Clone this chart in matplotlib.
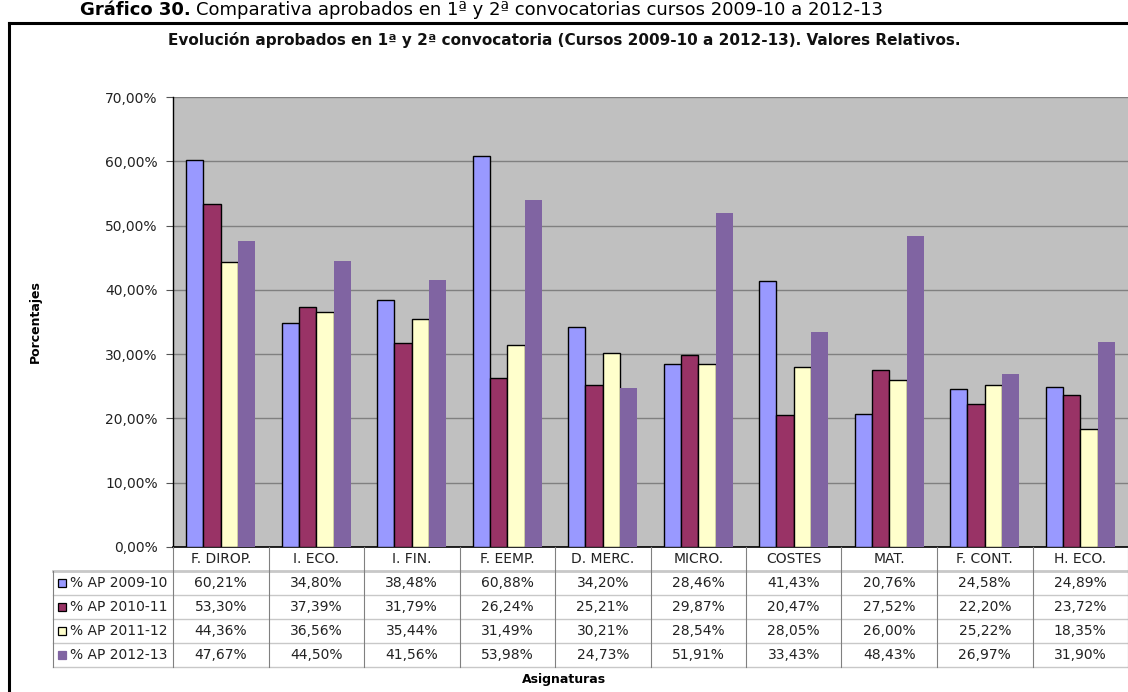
import matplotlib.pyplot as plt
from matplotlib.lines import Line2D
from matplotlib.patches import Rectangle
import numpy as np

asignaturas = ["F. DIROP.", "I. ECO.", "I. FIN.", "F. EEMP.", "D. MERC.",
               "MICRO.", "COSTES", "MAT.", "F. CONT.", "H. ECO."]
series_names = ["% AP 2009-10", "% AP 2010-11", "% AP 2011-12", "% AP 2012-13"]
ap_2009_10 = [60.21, 34.80, 38.48, 60.88, 34.20, 28.46, 41.43, 20.76, 24.58, 24.89]
ap_2010_11 = [53.30, 37.39, 31.79, 26.24, 25.21, 29.87, 20.47, 27.52, 22.20, 23.72]
ap_2011_12 = [44.36, 36.56, 35.44, 31.49, 30.21, 28.54, 28.05, 26.00, 25.22, 18.35]
ap_2012_13 = [47.67, 44.50, 41.56, 53.98, 24.73, 51.91, 33.43, 48.43, 26.97, 31.90]

series = [ap_2009_10, ap_2010_11, ap_2011_12, ap_2012_13]
colors = ["#9999FF", "#993366", "#FFFFCC", "#8064A2"]
edges = ["black", "black", "black", "none"]

plt.rcParams["font.family"] = "DejaVu Sans"

W, H = 1128, 692
fig = plt.figure(figsize=(W / 100, H / 100), dpi=100)


def fx(px):
    return px / W


def fy(py):
    return 1 - py / H


# outer frame of the chart
fig.add_artist(Line2D([fx(9), fx(9)], [fy(23), fy(700)], color="black", lw=2.2))
fig.add_artist(Line2D([fx(9), fx(1130)], [fy(23), fy(23)], color="black", lw=2.2))

# caption above the frame: bold label followed by plain text
renderer = fig.canvas.get_renderer()
cap_bold = fig.text(fx(80), fy(10), "Gráfico 30.", ha="left", va="center",
                    fontsize=13, fontweight="bold")
bb = cap_bold.get_window_extent(renderer=renderer)
fig.text(bb.x1 / W + fx(5), fy(10),
         "Comparativa aprobados en 1ª y 2ª convocatorias cursos 2009-10 a 2012-13",
         ha="left", va="center", fontsize=13)

fig.text(0.5, fy(40), "Evolución aprobados en 1ª y 2ª convocatoria (Cursos 2009-10 a 2012-13). Valores Relativos.",
         ha="center", va="center", fontsize=11, fontweight="bold", color="#111111")

left, right, top, bottom = 173, 1128, 97, 547
ax = fig.add_axes([fx(left), fy(bottom), fx(right - left), (bottom - top) / H])
ax.set_facecolor("#C0C0C0")

n = len(asignaturas)
x = np.arange(n)
bw = 0.181
offsets = (np.arange(4) - 1.5) * bw
for vals, off, c, e, name in zip(series, offsets, colors, edges, series_names):
    ax.bar(x + off, vals, width=bw, color=c, edgecolor=e, linewidth=1.0, zorder=3, label=name)

ax.set_xlim(-0.5, n - 0.5)
ax.set_ylim(0, 70)
ax.set_yticks(np.arange(0, 71, 10))
ax.set_yticklabels([f"{v:.2f}%".replace(".", ",") for v in np.arange(0, 71, 10)],
                   fontsize=10, color="#222222")
ax.yaxis.grid(True, color="#808080", lw=1.0, zorder=1)
ax.set_axisbelow(True)
ax.set_xticks([])
for s in ["top", "right"]:
    ax.spines[s].set_visible(False)
ax.spines["left"].set_linewidth(1.0)
ax.spines["bottom"].set_linewidth(1.2)
ax.tick_params(axis="y", direction="out", length=5, width=0.8, color="#555555", pad=6)

fig.text(fx(35), fy(322), "Porcentajes", rotation=90, ha="center", va="center",
         fontsize=9, fontweight="bold")

# data table below the plot
colw = (right - left) / n
row_h = 24
header_top = bottom
rows_top = bottom + 24
tab_left = 53
hgray = "#C8C8C8"
vgray = "#808080"

for i, lab in enumerate(asignaturas):
    cx = left + (i + 0.5) * colw
    fig.text(fx(cx), fy(header_top + 12), lab, ha="center", va="center", fontsize=10, color="#222222")

for r in range(5):
    yy = rows_top + r * row_h
    fig.add_artist(Line2D([fx(tab_left), fx(right)], [fy(yy), fy(yy)], color=hgray,
                          lw=2.0 if r == 0 else 1.0))

for i in range(n + 1):
    xx = left + i * colw
    fig.add_artist(Line2D([fx(xx), fx(xx)], [fy(header_top), fy(rows_top + 4 * row_h)],
                          color=vgray, lw=0.8))
fig.add_artist(Line2D([fx(tab_left), fx(tab_left)], [fy(rows_top), fy(rows_top + 4 * row_h)],
                      color=vgray, lw=0.8))

for r, (vals, c, e, name) in enumerate(zip(series, colors, edges, series_names)):
    cy = rows_top + (r + 0.5) * row_h
    fig.add_artist(Rectangle((fx(58), fy(cy + 4)), fx(8), 8 / H, facecolor=c,
                             edgecolor=e if e != "none" else c, lw=0.9))
    fig.text(fx(70), fy(cy), name, ha="left", va="center", fontsize=10, color="#222222")
    for i, v in enumerate(vals):
        cx = left + (i + 0.5) * colw
        fig.text(fx(cx), fy(cy), f"{v:.2f}%".replace(".", ","), ha="center", va="center",
                 fontsize=10, color="#222222")

fig.text(0.5, fy(680), "Asignaturas", ha="center", va="center", fontsize=9, fontweight="bold")

fig.savefig("out.png", dpi=100)
